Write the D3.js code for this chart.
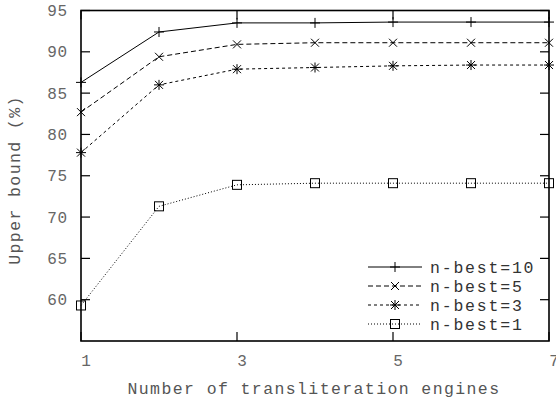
<!DOCTYPE html>
<html>
<head>
<meta charset="utf-8">
<script src="https://cdn.jsdelivr.net/npm/d3@7"></script>
<style>
  body { margin: 0; background: #fff; }
  text { font-family: "Liberation Mono", "DejaVu Sans Mono", monospace; }
</style>
</head>
<body>
<div id="container"></div>
<script>
// chart data
var engines = [1, 2, 3, 4, 5, 6, 7];
var best10 = [86.3, 92.4, 93.5, 93.5, 93.6, 93.6, 93.6];
var best5 = [82.7, 89.4, 90.9, 91.1, 91.1, 91.1, 91.1];
var best3 = [77.8, 86.0, 87.9, 88.1, 88.3, 88.4, 88.4];
var best1 = [59.3, 71.3, 73.9, 74.1, 74.1, 74.1, 74.1];
var xTicks = [1, 3, 5, 7];
var yTicks = [60, 65, 70, 75, 80, 85, 90, 95];

var series = [
	{ name: 'n-best=10', values: best10, dash: null, marker: 'plus' },
	{ name: 'n-best=5', values: best5, dash: '5,3', marker: 'cross' },
	{ name: 'n-best=3', values: best3, dash: '3,3', marker: 'star' },
	{ name: 'n-best=1', values: best1, dash: '1,2', marker: 'square' }
];

var w = 556, h = 401;
var margin = { top: 10.5, right: 7, bottom: 60, left: 81 };

var svg = d3.select('#container').append('svg')
	.attr('width', w)
	.attr('height', h);

var x = d3.scaleLinear().domain([1, 7]).range([margin.left, w - margin.right]);
var y = d3.scaleLinear().domain([55, 95]).range([h - margin.bottom, margin.top]);

var tickLen = 9;

// ticks (inward, mirrored)
var ticks = svg.append('g').attr('stroke', '#000').attr('stroke-width', 1.2);
yTicks.forEach(function(v){
	ticks.append('line').attr('x1', x(1)).attr('x2', x(1) + tickLen).attr('y1', y(v)).attr('y2', y(v));
	ticks.append('line').attr('x1', x(7)).attr('x2', x(7) - tickLen).attr('y1', y(v)).attr('y2', y(v));
});
xTicks.forEach(function(v){
	ticks.append('line').attr('x1', x(v)).attr('x2', x(v)).attr('y1', y(55)).attr('y2', y(55) - tickLen);
	ticks.append('line').attr('x1', x(v)).attr('x2', x(v)).attr('y1', y(95)).attr('y2', y(95) + tickLen);
});

// frame
svg.append('rect')
	.attr('x', x(1)).attr('y', y(95))
	.attr('width', x(7) - x(1)).attr('height', y(55) - y(95))
	.attr('fill', 'none').attr('stroke', '#000').attr('stroke-width', 1.6);

// tick labels
svg.selectAll('text.ylab').data(yTicks).enter().append('text')
	.attr('class', 'ylab')
	.attr('x', x(1) - 13)
	.attr('y', function(d){ return y(d) + 5.5; })
	.attr('text-anchor', 'end')
	.attr('fill', '#666')
	.style('font-size', '16px')
	.style('letter-spacing', '0.8px')
	.text(function(d){ return d; });

svg.selectAll('text.xlab').data(xTicks).enter().append('text')
	.attr('class', 'xlab')
	.attr('x', function(d){ return x(d) + 5; })
	.attr('y', h - margin.bottom + 25)
	.attr('text-anchor', 'middle')
	.attr('fill', '#666')
	.style('font-size', '16px')
	.text(function(d){ return d; });

// axis titles
svg.append('text')
	.attr('x', 314)
	.attr('y', 394)
	.attr('text-anchor', 'middle')
	.attr('fill', '#555')
	.style('font-size', '16.5px')
	.style('letter-spacing', '1.4px')
	.text('Number of transliteration engines');

svg.append('text')
	.attr('transform', 'translate(20,180) rotate(-90)')
	.attr('text-anchor', 'middle')
	.attr('fill', '#555')
	.style('font-size', '16.5px')
	.style('letter-spacing', '1.4px')
	.text('Upper bound (%)');

// markers
function drawMarker(g, type, cx, cy){
	var s = 5;
	var m = g.append('g').attr('stroke', '#000').attr('stroke-width', 1).attr('fill', 'none');
	if (type === 'plus' || type === 'star') {
		m.append('line').attr('x1', cx - s).attr('x2', cx + s).attr('y1', cy).attr('y2', cy);
		m.append('line').attr('x1', cx).attr('x2', cx).attr('y1', cy - s).attr('y2', cy + s);
	}
	if (type === 'cross' || type === 'star') {
		var c = 4;
		m.append('line').attr('x1', cx - c).attr('x2', cx + c).attr('y1', cy - c).attr('y2', cy + c);
		m.append('line').attr('x1', cx - c).attr('x2', cx + c).attr('y1', cy + c).attr('y2', cy - c);
	}
	if (type === 'square') {
		m.append('rect').attr('x', cx - 4.5).attr('y', cy - 4.5).attr('width', 9).attr('height', 9);
	}
}

var line = d3.line()
	.x(function(d, i){ return x(engines[i]); })
	.y(function(d){ return y(d); });

series.forEach(function(s){
	var g = svg.append('g');
	g.append('path')
		.attr('d', line(s.values))
		.attr('fill', 'none')
		.attr('stroke', '#000')
		.attr('stroke-width', 1)
		.attr('stroke-dasharray', s.dash);
	s.values.forEach(function(v, i){
		drawMarker(g, s.marker, x(engines[i]), y(v));
	});
});

// legend
var legY = [267, 286, 305, 324];
series.forEach(function(s, i){
	var g = svg.append('g');
	g.append('line')
		.attr('x1', 368).attr('x2', 422)
		.attr('y1', legY[i]).attr('y2', legY[i])
		.attr('stroke', '#000').attr('stroke-width', 1)
		.attr('stroke-dasharray', s.dash);
	drawMarker(g, s.marker, 395, legY[i]);
	g.append('text')
		.attr('x', 430)
		.attr('y', legY[i] + 5.5)
		.attr('fill', '#333')
		.style('font-size', '16.5px')
		.style('letter-spacing', '1.8px')
		.text(s.name);
});
</script>
</body>
</html>
